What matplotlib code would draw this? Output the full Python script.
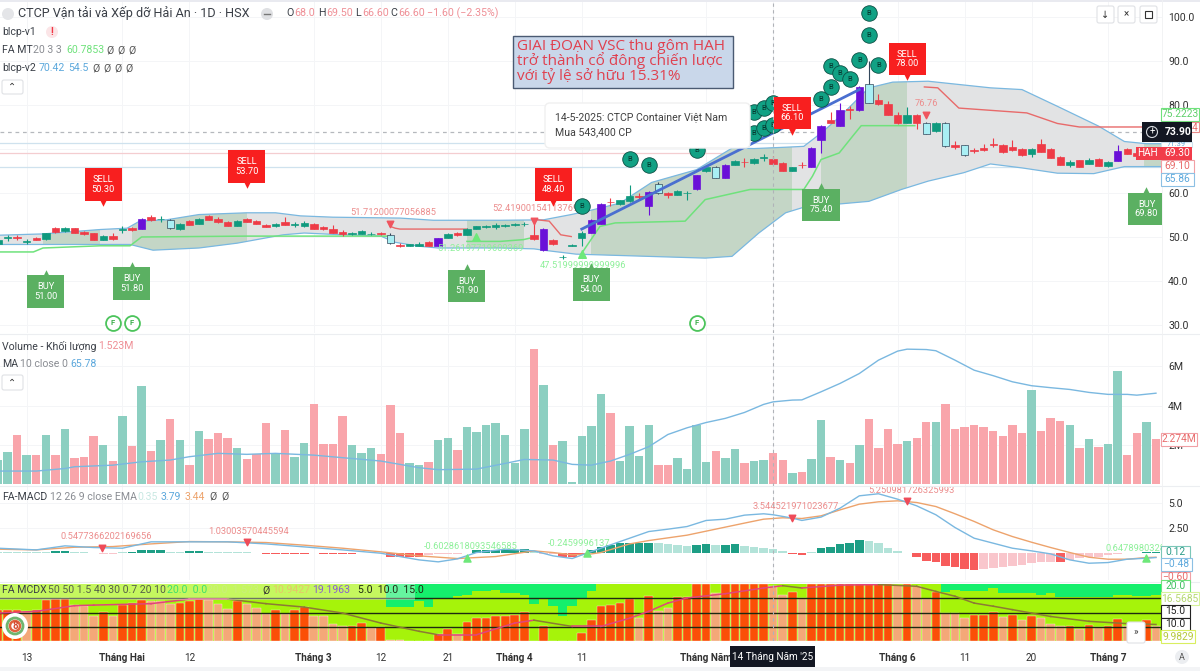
#!/usr/bin/env python3
"""HAH daily chart with volume, MACD and MCDX panels."""

import numpy as np
import matplotlib
matplotlib.use('Agg')
import matplotlib.pyplot as plt
from matplotlib.patches import Rectangle, FancyBboxPatch, Circle

plt.rcParams['font.family'] = ['Roboto', 'DejaVu Sans']

# candles, one entry per session: r/g normal, p breakout, c hollow
candle_kind = ("ggrgrgrgrr" "rgrgrprgcg" "rgrrrgrrrg" "rggrrrrggg" "rcrggrpgrg" "ggggggrprg"
               "ggpprggrpc" "rggpgcpgrg" "grrgrpprpr" "pcrrrgrcgc" "rcrrrrrrgr" "rrgrgrgprrrr")
candle_top = [49.4, 49.9, 49.9, 49.05, 49.85, 50.9, 52.0, 52.0, 52.0, 51.1, 50.9, 50.3, 50.3, 51.75, 52.1, 54.2,
              54.5, 54.15, 53.8, 53.0, 53.6, 54.2, 54.8, 54.1, 53.4, 53.7, 54.2, 53.6, 52.8, 53.0, 53.3, 52.85,
              53.2, 53.0, 52.3, 51.9, 51.2, 50.85, 51.3, 50.75, 50.9, 50.5, 48.2, 48.3, 48.5, 48.8, 49.7, 50.7,
              50.9, 51.8, 52.4, 52.45, 52.7, 52.65, 52.85, 53.05, 50.5, 51.9, 49.4, 45.55, 48.15, 50.9, 53.9, 57.6,
              57.95, 58.3, 59.4, 59.25, 60.2, 62.1, 60.0, 60.5, 60.05, 64.0, 65.9, 65.9, 66.3, 67.3, 67.05, 67.8,
              68.15, 67.7, 66.8, 65.8, 66.35, 70.2, 75.2, 76.7, 78.8, 79.0, 84.2, 84.7, 81.2, 80.2, 77.8, 77.8,
              77.8, 75.9, 75.9, 75.9, 70.8, 70.8, 69.8, 70.3, 71.2, 71.0, 70.5, 70.1, 70.0, 71.1, 70.0, 68.1,
              67.0, 67.4, 67.5, 67.7, 67.1, 69.5, 70.0, 69.1, 69.6, 69.5]
candle_bot = [48.3, 49.7, 49.8, 48.95, 49.4, 49.5, 51.1, 51.4, 50.9, 50.6, 49.4, 49.4, 49.5, 51.65, 51.6, 51.9,
              53.9, 54.05, 52.0, 51.8, 52.8, 53.0, 53.9, 53.3, 52.6, 52.6, 53.5, 53.0, 52.3, 52.4, 52.8, 52.75,
              52.4, 51.9, 51.8, 51.0, 50.7, 50.75, 50.7, 50.65, 50.6, 48.6, 47.9, 48.0, 48.0, 48.0, 48.0, 49.8,
              50.5, 50.5, 51.9, 52.35, 52.2, 52.55, 52.75, 52.95, 49.5, 47.0, 48.3, 45.45, 48.05, 49.7, 50.9, 53.0,
              57.85, 57.4, 58.1, 59.15, 57.1, 59.9, 59.5, 59.6, 59.95, 60.9, 64.9, 63.4, 63.4, 66.4, 66.95, 66.8,
              68.05, 66.5, 65.1, 65.1, 66.25, 66.0, 72.0, 75.9, 75.3, 78.8, 78.8, 80.5, 80.2, 77.8, 75.8, 75.9,
              75.9, 73.5, 74.0, 70.6, 70.4, 68.6, 69.5, 69.8, 70.8, 69.3, 69.8, 68.6, 68.9, 69.4, 68.0, 66.4,
              66.4, 65.9, 66.7, 66.2, 66.2, 67.3, 68.9, 68.3, 68.6, 68.6]
candle_high = [49.7, 50.4, 50.5, 49.5, 50.0, 51.0, 52.2, 52.3, 52.1, 51.3, 51.0, 50.5, 50.9, 52.4, 52.3, 54.3,
               55.0, 54.8, 54.0, 53.2, 53.8, 54.4, 55.0, 54.6, 53.6, 53.9, 54.4, 53.8, 53.0, 53.2, 54.5, 53.3,
               53.6, 53.2, 52.5, 52.8, 51.6, 51.2, 51.6, 51.1, 51.2, 51.0, 48.6, 48.5, 48.8, 49.0, 49.8, 51.0,
               51.2, 52.0, 52.6, 52.7, 53.1, 52.9, 53.1, 53.5, 53.9, 52.0, 49.6, 46.0, 48.3, 51.3, 54.1, 57.8,
               58.8, 58.5, 61.9, 60.1, 60.4, 62.4, 60.3, 60.7, 60.5, 64.2, 66.1, 66.1, 66.5, 67.5, 68.0, 68.0,
               68.8, 68.5, 67.0, 66.0, 67.0, 70.4, 75.4, 78.5, 80.5, 79.8, 84.4, 90.0, 82.5, 81.0, 78.5, 79.5,
               78.0, 76.1, 76.1, 76.1, 71.8, 71.0, 70.3, 71.2, 72.4, 71.2, 72.0, 70.3, 70.2, 72.3, 70.2, 68.3,
               67.4, 67.6, 68.0, 67.9, 67.3, 71.0, 70.2, 69.4, 69.8, 69.7]
candle_low = [48.0, 49.2, 49.3, 48.4, 49.3, 49.4, 51.0, 51.2, 50.8, 50.5, 49.3, 49.3, 49.4, 51.0, 51.4, 51.8,
              53.7, 53.4, 51.9, 51.7, 52.7, 52.9, 53.8, 53.2, 52.5, 52.5, 53.3, 52.9, 52.2, 52.3, 52.7, 52.2,
              52.2, 51.8, 51.7, 50.9, 50.2, 50.5, 50.6, 50.4, 50.4, 48.5, 47.8, 47.9, 47.9, 47.9, 47.9, 49.7,
              50.3, 50.4, 51.8, 52.1, 51.8, 52.3, 52.5, 52.6, 49.4, 46.9, 48.2, 44.9, 47.9, 47.9, 50.8, 52.9,
              57.1, 57.3, 58.0, 58.4, 55.0, 59.8, 58.8, 59.5, 58.4, 60.7, 64.8, 63.3, 63.3, 66.3, 66.0, 66.5,
              67.2, 66.4, 65.0, 65.0, 65.6, 65.9, 69.0, 75.8, 75.2, 76.8, 78.7, 80.4, 80.0, 77.7, 75.7, 75.8,
              74.5, 73.4, 73.9, 70.5, 69.9, 68.5, 69.2, 69.6, 70.5, 69.2, 69.5, 68.5, 68.1, 69.3, 67.9, 66.3,
              66.0, 65.8, 66.5, 66.1, 66.0, 67.2, 68.8, 68.2, 68.5, 68.5]

# bands and stop lines (session index, price)
upper_idx = [0, 4.7, 10.7, 13.5, 14.8, 17.6, 21, 26, 29, 31.6, 35, 42, 45.5, 52.5, 57, 59.9, 62, 65, 68.3, 73, 76.7,
             79, 82.3, 84.2, 86, 88, 91, 93.5, 97.2, 103.7, 107, 110.7, 115, 117.7, 120, 122]
upper_val = [50.4, 50.7, 51.7, 52.0, 53.6, 53.9, 55.1, 55.5, 55.5, 54.8, 54.5, 54.3, 53.8, 53.8, 53.9, 55.1, 56.1,
             57.7, 62.4, 65.3, 70.2, 70.1, 70.4, 70.6, 73.6, 77.4, 83.9, 85.2, 85.4, 83.9, 83.5, 79.7, 75.2, 71.7,
             71.2, 71.2]
lower_idx = [0, 4.7, 13.8, 16.2, 21, 25, 29.8, 32, 35, 40, 41.5, 44, 46, 52.5, 56, 57, 60.4, 73.9, 76.7, 79.5, 82.3,
             85, 87.9, 91, 94.4, 97.2, 100.9, 103.7, 107, 110.7, 114.5, 117.7, 122]
lower_val = [48.3, 48.3, 48.3, 47.0, 47.5, 48.6, 50.5, 50.9, 50.6, 50.2, 48.8, 47.9, 47.5, 47.5, 47.3, 47.0, 46.1,
             45.2, 45.6, 50.9, 55.5, 57.3, 57.5, 58.1, 60.8, 62.7, 64.6, 66.6, 65.7, 64.5, 64.4, 66.0, 66.0]
hold_start = [4.7, 14, 49, 62, 86, 119.7]
hold_end = [10.7, 26, 55, 83, 95, 122]
green_a_idx = [0, 3.7, 4.7, 10.7, 13.8, 15, 26, 40.8]
green_a_val = [46.6, 46.6, 47.5, 48.0, 48.0, 50.0, 50.2, 50.2]
green_b_idx = [49, 52.5, 54.9, 55.7]
green_b_val = [49.0, 49.0, 49.4, 49.8]
green_c_idx = [60.9, 62.9, 64.5, 71.8, 73.9, 78.6, 84.2, 85.1, 86, 87.9, 89.3, 90.2, 95.8]
green_c_val = [46.0, 52.4, 53.2, 53.6, 58.5, 60.8, 60.8, 63.8, 67.6, 69.1, 72.9, 75.3, 75.3]
red_a_idx = [41, 41.5, 42, 49]
red_a_val = [52.4, 52.0, 51.8, 51.8]
red_b_idx = [56, 57.6, 58.8, 59.9]
red_b_val = [54.0, 53.6, 50.5, 50.1]
red_c_idx = [96.8, 98.2, 100.4, 107.5, 110.7, 113, 122]
red_c_val = [84.1, 83.9, 79.3, 78.2, 75.8, 75.0, 75.0]
trend_idx = [61, 90]
trend_val = [51.8, 83.5]

# trade signals and markers
sell_idx = [11, 26, 58, 83, 95]
sell_tip = [56.9, 61.0, 56.9, 73.2, 85.5]
sell_txt = ['50.30', '53.70', '48.40', '66.10', '78.00']
buy_idx = [5, 14, 49, 62, 86, 120]
buy_tip = [42.6, 44.4, 43.9, 44.2, 62.3, 61.4]
buy_txt = ['51.00', '51.80', '51.90', '54.00', '75.40', '69.80']
b_idx = [61, 66, 68, 73, 79, 80, 81, 79, 80, 81, 86, 87, 87, 88, 89, 90, 92, 91, 91]
b_val = [57.1, 67.7, 66.4, 69.8, 78.5, 79.3, 80.5, 73.6, 74.8, 75.5, 81.4, 84.0, 88.8, 87.3, 86.0, 90.3, 89.2, 100.8, 96.0]
flag_idx = [12, 14, 73]
flag_val = [30.5, 30.5, 30.5]

# volume in millions
volume = [1.24, 1.63, 2.5, 1.5, 1.5, 2.5, 1.5, 2.8, 1.35, 1.4, 2.45, 2.03, 1.2, 3.47, 1.97, 5.0, 1.7, 2.25, 3.34, 2.27,
          1.0, 2.7, 2.3, 2.63, 2.37, 1.83, 1.27, 1.56, 3.1, 1.56, 2.76, 1.42, 2.1, 4.08, 2.07, 2.07, 3.5, 2.0, 1.58,
          1.86, 1.56, 4.03, 2.6, 1.1, 1.0, 1.15, 2.24, 2.34, 1.73, 2.9, 2.66, 3.0, 3.14, 2.5, 1.07, 2.83, 6.9, 5.05,
          2.0, 2.2, 0.14, 2.44, 2.97, 4.58, 3.63, 1.19, 2.97, 1.46, 3.03, 1.0, 0.98, 1.32, 0.8, 3.0, 1.12, 1.71, 1.32,
          1.78, 1.1, 1.19, 1.22, 1.58, 1.22, 0.6, 0.64, 1.29, 3.27, 1.4, 1.25, 1.08, 1.98, 3.34, 1.85, 2.8, 2.05, 2.2,
          2.36, 3.17, 3.17, 4.07, 2.8, 2.93, 3.0, 2.9, 2.73, 2.47, 3.02, 2.6, 4.8, 2.7, 3.39, 3.24, 3.02, 1.86, 2.32,
          1.92, 2.08, 5.78, 1.49, 2.6, 3.17, 2.32]
volume_side = ("ggrgrgrgrr" "rgrgrgrgrg" "rgrrrgrrrg" "rggrrrrggg" "rrrggrggrg" "ggggggrgrg"
               "ggggrggggr" "rggggrggrg" "grrgrggrgr" "grrrrgrrgr" "rrrrrrrrgr" "rrgrgrggrrgr")
vol_ma_idx = [0, 4, 7, 8, 12, 15, 18, 20, 23, 26, 29, 33, 36, 40, 44, 46, 50, 53, 55, 58, 60, 62, 64, 66, 68, 70, 72,
              74, 76, 78, 80, 81, 83, 84, 86, 88, 90, 92, 94, 95, 97, 98, 100, 102, 104, 106, 108, 110, 112, 114,
              116, 118, 119, 121]
vol_ma_val = [0.68, 0.68, 0.81, 0.9, 0.98, 1.15, 1.24, 1.41, 1.58, 1.53, 1.58, 1.49, 1.36, 1.19, 0.85, 0.75, 0.78,
              1.07, 1.27, 1.24, 1.02, 0.98, 1.19, 1.53, 1.92, 2.54, 2.88, 3.15, 3.36, 3.66, 4.07, 4.2, 4.29, 4.3,
              4.71, 5.14, 5.64, 6.32, 6.78, 6.88, 6.86, 6.8, 6.32, 5.81, 5.53, 5.22, 5.02, 4.92, 4.83, 4.68, 4.58,
              4.58, 4.54, 4.64]

# MACD
macd_idx = [0, 4, 7, 10, 13, 16, 18, 24, 28, 36, 40, 44, 46, 48, 50, 53, 56, 58, 60, 62, 63, 66, 68, 70, 72, 74, 76,
            78, 80, 81, 83, 84, 86, 88, 90, 92, 94, 96, 98, 100, 102, 104, 106, 108, 110, 112, 114, 116, 118, 120, 121]
macd_val = [0.44, 0.27, 0.68, 0.51, 0.44, 1.09, 1.09, 1.09, 0.88, 0.27, -0.07, -0.75, -0.95, -0.65, 0.0, 0.34, 0.17,
            -0.34, -0.61, 0.1, 0.44, 1.46, 2.14, 2.38, 2.65, 3.27, 3.4, 3.81, 3.95, 3.85, 3.51, 3.27, 3.61, 4.53, 5.78,
            5.99, 5.44, 4.76, 3.85, 2.55, 1.46, 0.95, 0.44, 0.17, -0.14, -0.75, -1.09, -1.02, -0.68, -0.58, -0.51]
signal_idx = [0, 4, 8, 12, 16, 20, 24, 28, 32, 36, 40, 44, 48, 52, 56, 58, 60, 62, 63, 66, 68, 72, 76, 78, 80, 82, 84,
              86, 88, 90, 92, 94, 96, 98, 100, 102, 104, 106, 108, 110, 112, 114, 116, 118, 120, 121]
signal_val = [0.34, 0.27, 0.54, 0.61, 0.88, 1.12, 1.09, 1.02, 0.75, 0.44, 0.07, -0.34, -0.61, -0.41, 0.17, 0.0, -0.24,
              -0.14, 0.0, 0.88, 1.22, 1.77, 2.59, 3.0, 3.4, 3.54, 3.47, 3.74, 4.35, 4.93, 5.17, 5.27, 5.1, 4.69, 3.95,
              3.17, 2.31, 1.63, 1.05, 0.51, 0.0, -0.48, -0.68, -0.68, -0.51, -0.48]
macd_hist = [0.03, 0.02, 0.02, 0.02, 0.05, 0.1, 0.2, 0.2, 0.1, 0.05, -0.05, -0.1, -0.1, 0.03, 0.08, 0.3, 0.3, 0.3,
             0.1, 0.06, 0.2, 0.2, 0.05, 0.04, 0.03, 0.03, 0.03, -0.04, -0.12, -0.12, -0.12, -0.12, -0.12, -0.08, -0.2,
             -0.2, -0.2, -0.2, -0.08, -0.08, -0.08, -0.5, -0.5, -0.5, -0.5, -0.25, -0.2, -0.15, -0.1, -0.05, 0.3, 0.3,
             0.3, 0.3, 0.3, 0.4, 0.2, -0.1, -0.1, -0.5, -0.5, -0.3, 0.3, 0.6, 0.78, 0.95, 0.95, 1.02, 1.02, 0.95, 0.85,
             0.78, 0.68, 0.78, 0.88, 0.78, 0.78, 0.82, 0.68, 0.61, 0.51, 0.34, 0.14, -0.1, -0.24, 0.02, 0.44,
             0.61, 0.88, 0.95, 1.29, 1.16, 0.95, 0.51, 0.2, -0.07, -0.48, -0.88, -0.95, -1.36, -1.5, -1.67, -1.77,
             -1.67, -1.6, -1.5, -1.36, -1.26, -1.09, -1.0, -0.95, -0.95, -0.75, -0.58, -0.48, -0.41, -0.27, -0.14,
             -0.07, 0.0, 0.1, 0.1]
hist_strong = ("000000" "11" "000000" "1111" "00" "11" "000000" "11111" "0" "1111" "000" "1111" "00000" "111111"
               "000" "111" "1111111" "0000" "11" "0" "11" "00000" "11" "0" "11111" "0000" "11111111" "00000000"
               "1" "00000000" "11")

# MCDX stacks, 0-20
mcdx_red = [11.0, 11.0, 11.0, 10.5, 10.8, 14.5, 14.7, 15.0, 12.6, 12.3, 8.6, 10.3, 8.8, 12.6, 13.3, 14.5, 14.0, 14.0,
            12.9, 13.4, 13.9, 14.8, 14.5, 13.0, 11.2, 14.0, 12.9, 11.7, 9.6, 11.0, 9.6, 11.0, 11.9, 8.8, 8.6, 6.1,
            5.1, 5.1, 6.4, 4.6, 4.8, 0.5, 0.2, 0.1, 0.0, 0.0, 2.6, 4.3, 2.6, 6.8, 8.0, 8.0, 8.9, 8.9, 9.2, 10.1, 0.0,
            5.4, 0.0, 0.0, 0.0, 2.8, 7.3, 12.3, 12.8, 13.3, 14.9, 8.0, 15.7, 10.5, 11.7, 15.3, 15.3, 20.0, 20.0, 16.9,
            20.0, 20.0, 20.0, 20.0, 20.0, 19.2, 16.3, 17.2, 15.0, 20.0, 20.0, 20.0, 20.0, 20.0, 20.0, 20.0, 20.0,
            20.0, 19.8, 20.0, 19.2, 14.8, 17.2, 9.9, 9.9, 8.2, 9.2, 9.2, 10.1, 8.4, 9.2, 7.5, 8.9, 8.2, 6.1, 5.1, 5.1,
            4.3, 5.5, 4.8, 5.1, 7.7, 5.1, 5.1, 7.5, 5.4]
mcdx_strong = [1, 1, 1, 0, 1, 1, 1, 1, 0, 0, 0, 1, 0, 1, 1, 1, 0, 0, 0, 1, 1, 1, 0, 0, 0, 1, 0, 0, 0, 1, 0, 1, 1, 0, 0,
               0, 0, 1, 1, 0, 1, 0, 0, 0, 0, 0, 1, 1, 0, 1, 1, 1, 1, 1, 1, 1, 0, 1, 0, 0, 0, 1, 1, 1, 1, 1, 1, 0, 1, 0,
               0, 1, 1, 1, 1, 0, 1, 1, 1, 1, 1, 0, 0, 1, 0, 1, 1, 1, 1, 1, 1, 1, 1, 1, 0, 1, 0, 0, 1, 0, 0, 0, 1, 1, 1,
               0, 1, 0, 1, 0, 0, 0, 1, 0, 1, 0, 1, 1, 0, 0, 1, 0]
mcdx_top = [0, 0, 0, 0, 0, 0, 0, 0, 0, 0, 0, 0, 0, 0, 0, 0, 0, 0, 0, 0, 0, 0, 0, 0, 0, 0, 0, 0, 0, 0, 0, 0, 0, 0, 0, 0,
            0, 0, 0, 0, 0, 7.9, 7.9, 7.9, 6.1, 7.9, 4.9, 4.9, 4.3, 3.8, 2.6, 2.6, 2.2, 3.2, 3.2, 3.8, 6.9, 4.9, 7.6, 11.3,
            7.8, 4.9, 2.6, 0, 0, 0, 0, 0, 0, 0, 0, 0, 0, 0, 0, 0, 0, 0, 0, 0, 0, 0, 0, 0, 0, 0, 0, 0, 0, 0, 0, 0, 0, 0, 0,
            0, 0, 0, 0, 2.9, 2.0, 2.6, 2.6, 2.6, 1.4, 3.2, 3.2, 3.2, 3.2, 3.8, 3.2, 4.6, 4.6, 4.6, 4.6, 4.6, 4.6, 3.8, 3.8,
            4.3, 4.3, 3.8]
mcdx_ma_idx = [0, 4, 8, 10, 16, 20, 24, 28, 32, 36, 40, 44, 46, 50, 54, 56, 60, 63, 66, 68, 70, 72, 76, 80, 82, 84, 88,
               92, 96, 98, 100, 102, 104, 106, 108, 110, 114, 118, 121]
mcdx_ma_val = [9.8, 10.4, 12.4, 12.6, 13.1, 14.7, 14.7, 13.1, 11.9, 9.8, 6.3, 3.4, 2.2, 2.2, 6.3, 7.3, 5.1, 5.1, 8.0,
               10.4, 13.3, 15.1, 16.6, 18.6, 19.4, 18.6, 19.6, 19.8, 19.2, 17.4, 15.7, 13.3, 12.2, 11.0, 9.8, 8.6, 6.9,
               6.1, 5.8]

# x axis
tick_idx = [3, 13, 20, 33, 40, 47, 54, 61, 74, 94, 101, 108, 116]
tick_lbl = ['13', 'Tháng Hai', '12', 'Tháng 3', '12', '21', 'Tháng 4', '11', 'Tháng Năm', 'Tháng 6', '11', '20', 'Tháng 7']
cross_idx = 81

W, H = 1200, 671
CHART_RIGHT = 1162
KIND_COLOR = {'r': '#ee3b47', 'g': '#0f9a7e', 'p': '#6a10d8', 'c': '#a9eff4'}
BAND_BLUE = '#7ab8e0'


def px_axes(fig, y0, y1):
    # axes over the chart width, between two pixel rows
    ax = fig.add_axes([0, 1 - y1 / H, CHART_RIGHT / W, (y1 - y0) / H])
    ax.set_xlim(0.21, 121.63)
    ax.patch.set_alpha(0)
    for s in ax.spines.values():
        s.set_visible(False)
    ax.tick_params(length=0, labelbottom=False, left=False, labelleft=False,
                   right=False, labelright=True, pad=4.5, labelsize=7.6, labelcolor='#303030')
    ax.yaxis.tick_right()
    ax.set_xticks(tick_idx + [cross_idx])
    ax.grid(True, color='#f4f5f7', lw=0.7)
    ax.set_axisbelow(True)
    ax.axvline(cross_idx, color='#b0b3b8', lw=0.8, ls=(0, (3, 3)), zorder=6)
    return ax


fig = plt.figure(figsize=(W / 100, H / 100), dpi=100, facecolor='white')
ax_p = px_axes(fig, 0, 333)
ax_v = px_axes(fig, 335, 486)
ax_m = px_axes(fig, 487, 580)
ax_x = px_axes(fig, 584, 641)

# ---- price panel
ax_p.set_ylim(28.18, 103.86)
ax_p.set_yticks(np.arange(30, 101, 10.0))
ax_p.set_yticklabels(['%.1f' % v for v in np.arange(30, 101, 10.0)])

for lvl, col, ls in [(73.9, '#b5b8bd', (0, (3, 3))), (71.4, '#cfe2ee', '-'), (69.1, '#f4cdd0', '-'), (65.86, '#cfe2ee', '-')]:
    ax_p.axhline(lvl, color=col, lw=0.9, ls=ls, zorder=1)

band = ax_p.fill(upper_idx + lower_idx[::-1], upper_val + lower_val[::-1], color='#e2e3e4', lw=0, zorder=1.5)[0]
for a, b in zip(hold_start, hold_end):
    sp = ax_p.axvspan(a, b, color='#c4d6c6', lw=0, zorder=1.6)
    sp.set_clip_path(band.get_path(), band.get_transform())
ax_p.plot(upper_idx, upper_val, color=BAND_BLUE, lw=0.9, zorder=2)
ax_p.plot(lower_idx, lower_val, color=BAND_BLUE, lw=0.9, zorder=2)
for xs, ys in [(green_a_idx, green_a_val), (green_b_idx, green_b_val), (green_c_idx, green_c_val)]:
    ax_p.plot(xs, ys, color='#6fe27c', lw=1.1, zorder=2.2)
for xs, ys in [(red_a_idx, red_a_val), (red_b_idx, red_b_val), (red_c_idx, red_c_val)]:
    ax_p.plot(xs, ys, color='#e86a6a', lw=1.0, zorder=2.2)

idx = np.arange(len(candle_top))
top, bot = np.array(candle_top), np.array(candle_bot)
colors = [KIND_COLOR[k] for k in candle_kind]
edges = ['#33475b' if k == 'c' else KIND_COLOR[k] for k in candle_kind]
ax_p.vlines(idx, candle_low, candle_high, colors=edges, lw=0.8, zorder=3)
ax_p.bar(idx, top - bot, bottom=bot, width=0.78, color=colors, edgecolor=edges, lw=0.5, zorder=3.1)
ax_p.plot(trend_idx, trend_val, color='#4a6fd0', lw=2, zorder=3.5)

# small triangles and the long labels next to them
ax_p.scatter([41, 56, 97], [53.0, 53.7, 77.8], marker='v', s=22, color='#f0555f', zorder=4)
ax_p.scatter([50, 61], [50.1, 46.2], marker='^', s=30, color='#6ee87a', zorder=4)
long_lbl = [(36.8, 55.5, '51.71200077056885', '#ec8d8d'), (51.6, 56.4, '52.41900154113769', '#ec8d8d'),
            (45.9, 47.3, '51.26197719609369', '#8ef09a'), (56.6, 43.5, '47.51999999999996', '#8ef09a'),
            (97, 80.3, '76.76', '#ec8d8d')]
for x, y, t, c in long_lbl:
    ax_p.text(x, y, t, color=c, fontsize=6.7, va='center', zorder=4.2,
              ha='center' if t == '76.76' else 'left')

# buy / sell callouts, size given in data units of this panel
BOX_W, BOX_H, TIP_H = 3.87, 7.4, 1.3
for i, tip, t in zip(sell_idx, sell_tip, sell_txt):
    ax_p.add_patch(Rectangle((i - BOX_W / 2, tip + TIP_H), BOX_W, BOX_H, color='#f81f1f', lw=0, zorder=6))
    ax_p.scatter([i], [tip + TIP_H - 0.3], marker='v', s=38, color='#f81f1f', lw=0, zorder=6)
    ax_p.text(i, tip + TIP_H + BOX_H / 2, 'SELL\n' + t, color='white', fontsize=6.7, ha='center', va='center',
              linespacing=1.05, zorder=6.1)
for i, tip, t in zip(buy_idx, buy_tip, buy_txt):
    ax_p.add_patch(Rectangle((i - BOX_W / 2, tip - TIP_H - BOX_H), BOX_W, BOX_H, color='#5bb062', lw=0, zorder=6))
    ax_p.scatter([i], [tip - TIP_H + 0.3], marker='^', s=38, color='#5bb062', lw=0, zorder=6)
    ax_p.text(i, tip - TIP_H - BOX_H / 2, 'BUY\n' + t, color='white', fontsize=6.7, ha='center', va='center',
              linespacing=1.05, zorder=6.1)

ax_p.scatter(b_idx, b_val, s=125, color='#11a184', edgecolor='#0b4f44', lw=0.6, zorder=5)
for i, v in zip(b_idx, b_val):
    ax_p.text(i, v, 'B', color='#06352d', fontsize=5.5, ha='center', va='center', zorder=5.1)
ax_p.scatter(flag_idx, flag_val, s=115, color='white', edgecolor='#4cc45c', lw=1.3, zorder=5)
for i, v in zip(flag_idx, flag_val):
    ax_p.text(i, v, 'F', color='#3cae4c', fontsize=5.5, fontweight='bold', ha='center', va='center', zorder=5.1)

# ---- volume panel
ax_v.set_ylim(-0.08, 7.6)
ax_v.set_yticks([2, 4, 6])
ax_v.set_yticklabels(['2M', '4M', '6M'])
vol_col = ['#8ccfc1' if s == 'g' else '#f9a5ab' for s in volume_side]
ax_v.bar(np.arange(len(volume)), volume, width=0.88, color=vol_col, lw=0, zorder=2)
ax_v.plot(vol_ma_idx, vol_ma_val, color=BAND_BLUE, lw=1.0, zorder=3)

# ---- MACD panel
ax_m.set_ylim(-2.8, 6.68)
ax_m.set_yticks([2.5, 5.0])
ax_m.set_yticklabels(['2.50', '5.0'])
hist_col = []
for v, s in zip(macd_hist, hist_strong):
    if v >= 0:
        hist_col.append('#1d9e85' if s == '1' else '#b3e3d9')
    else:
        hist_col.append('#f75c5c' if s == '1' else '#f9c6cc')
ax_m.bar(np.arange(len(macd_hist)), macd_hist, width=0.9, color=hist_col, lw=0, zorder=2)
ax_m.plot(signal_idx, signal_val, color='#eda36c', lw=1.0, zorder=3)
ax_m.plot(macd_idx, macd_val, color=BAND_BLUE, lw=1.0, zorder=3.1)
ax_m.scatter([10.9, 26, 83, 95], [0.5, 1.05, 3.52, 5.27], marker='v', s=22, color='#ef4b58', zorder=4)
ax_m.scatter([49, 61.5, 120], [-0.55, -0.05, -0.55], marker='^', s=26, color='#6ee87a', zorder=4)
macd_lbl = [(6.5, 1.63, '0.5477366202169656', '#ec8d8d'), (22, 2.1, '1.03003570445594', '#ec8d8d'),
            (44.5, 0.6, '-0.6028618093546585', '#8ef09a'), (57.5, 0.9, '-0.2459996137', '#8ef09a'),
            (78.9, 4.65, '3.544521971023677', '#ec8d8d'), (90.9, 6.35, '5.250981726325993', '#ec8d8d'),
            (115.7, 0.45, '0.6478980328', '#8ef09a')]
for x, y, t, c in macd_lbl:
    ax_m.text(x, y, t, color=c, fontsize=6.7, va='center', zorder=4.2, clip_on=True)

# ---- MCDX panel
ax_x.set_ylim(0, 20)
ax_x.set_yticks([])
ax_x.grid(False)
x_all = np.arange(len(mcdx_red))
ax_x.bar(x_all, [20.0] * len(x_all), width=1.0, color='#a6f30a', lw=0, zorder=1)
ax_x.bar(x_all, mcdx_top, bottom=20 - np.array(mcdx_top), width=1.0, color='#15ef6c', lw=0, zorder=1.2)
ax_x.bar(x_all, mcdx_red, width=0.9, color=['#fb4f07' if s else '#f4a878' for s in mcdx_strong],
         edgecolor='white', lw=0.25, zorder=1.5)
for lvl in (5, 10, 15):
    ax_x.axhline(lvl, color='#1e2a12', lw=1, zorder=2)
ma_x, ma_y = np.array(mcdx_ma_idx), np.array(mcdx_ma_val)
for k in range(len(ma_x) - 1):
    rising = ma_y[k + 1] >= ma_y[k]
    ax_x.plot(ma_x[k:k + 2], ma_y[k:k + 2], lw=1.1, zorder=3, color='#e0457c' if rising else '#8c7a35')

# bottom tick labels belong to the lowest axes
ax_x.set_xticks(tick_idx)
ax_x.set_xticklabels(tick_lbl)
ax_x.tick_params(labelbottom=True, axis='x', pad=8.5, labelsize=7.2, labelcolor='#303030')
for lab in ax_x.get_xticklabels():
    if lab.get_text().startswith('Tháng'):
        lab.set_fontweight('bold')

# ---- overlay in pixels: legends, tags, buttons
ui = fig.add_axes([0, 0, 1, 1], zorder=20)
ui.set_xlim(0, W)
ui.set_ylim(H, 0)
ui.axis('off')
ui.patch.set_alpha(0)


def txt(x, y, s, color='#3a3f47', size=7.6, **kw):
    kw.setdefault('va', 'center')
    return ui.text(x, y, s, color=color, fontsize=size, **kw)


def tag(y, s, edge, fg, x0=1161, x1=1197, fill='white', h=13):
    ui.add_patch(Rectangle((x0, y - h / 2), x1 - x0, h, fc=fill, ec=edge, lw=0.8, zorder=3))
    txt((x0 + x1) / 2, y, s, color=fg, size=7.4, ha='center', zorder=3.1)


def button(x, y, w, h, s):
    ui.add_patch(FancyBboxPatch((x, y), w, h, boxstyle='round,pad=0,rounding_size=2', fc='white',
                                ec='#dfe1e5', lw=0.8, zorder=3))
    txt(x + w / 2, y + h / 2, s, color='#333333', size=7, ha='center', zorder=3.1)


# separators and frame
for y in (334, 486, 582):
    ui.plot([0, W], [y, y], color='#eceef1', lw=0.8)
ui.plot([CHART_RIGHT, CHART_RIGHT], [0, 640], color='#f0f1f3', lw=0.6)
ui.add_patch(Rectangle((0, 0), W, 2, fc='#e9eaf0', lw=0))
ui.add_patch(Rectangle((0, 667), W, 4, fc='#f3f4f6', lw=0))

# price legend
ui.add_patch(Circle((8, 14), 6, fc='#e4e5e8', lw=0))
txt(18, 13.5, 'CTCP Vận tải và Xếp dỡ Hải An · 1D · HSX', size=9.05)
ui.add_patch(Circle((267, 14), 6, fc='#dfe0e3', lw=0))
ui.plot([264, 270], [14, 14], color='#777777', lw=1)
for x, s, c in [(286, 'O', '#3a3f47'), (294, '68.0', '#ef8f96'), (318, 'H', '#3a3f47'), (326, '69.50', '#ef8f96'),
                (355, 'L', '#3a3f47'), (362, '66.60', '#ef8f96'), (390, 'C', '#3a3f47'), (398, '66.60', '#ef8f96'),
                (427, '−1.60 (−2.35%)', '#ef8f96')]:
    txt(x, 13.5, s, color=c, size=7.7)
txt(2, 32, 'blcp-v1', size=7.6)
ui.add_patch(Circle((52, 32), 6, fc='#fbe5e7', lw=0))
txt(52, 32, '!', color='#f23645', size=7, ha='center', fontweight='bold')
for x, s, c in [(2, 'FA MT', '#3a3f47'), (33, '20 3 3', '#8a8d93'), (66, '60.7853', '#6fe27c'), (106, 'Ø', '#555555'),
                (117, 'Ø', '#555555'), (128, 'Ø', '#555555')]:
    txt(x, 50, s, color=c)
for x, s, c in [(2, 'blcp-v2', '#3a3f47'), (39, '70.42', '#5ca8dc'), (68, '54.5', '#5ca8dc'), (92, 'Ø', '#555555'),
                (103, 'Ø', '#555555'), (114, 'Ø', '#555555'), (125, 'Ø', '#555555')]:
    txt(x, 68, s, color=c)
button(2, 80, 21, 14, '⌃')

# volume and oscillator legends
txt(2, 346, 'Volume - Khối lượng')
txt(98, 346, '1.523M', color='#ef8f96')
txt(2, 364, 'MA')
txt(20, 364, '10 close 0', color='#8a8d93')
txt(70, 364, '65.78', color='#5ca8dc')
button(2, 375, 21, 15, '⌃')
for x, s, c in [(2, 'FA-MACD', '#3a3f47'), (50, '12 26 9 close EMA', '#8a8d93'), (137, '0.35', '#c8e8e2'),
                (161, '3.79', '#5ca8dc'), (185, '3.44', '#eda36c'), (209, 'Ø', '#555555'), (221, 'Ø', '#555555')]:
    txt(x, 497, s, color=c)
ui.add_patch(Rectangle((0, 584), 415, 16, fc='white', alpha=0.35, lw=0))
for x, s, c in [(2, 'FA MCDX', '#3a3f47'), (48, '50 50 1.5 40 30 0.7 20 10', '#55604a'), (167, '20.0  0.0', '#3fe06c'),
                (207, '20.0  1.573', '#c9ef7c'), (262, 'Ø', '#333333'), (272, '10.9427', '#e6c66a'),
                (312, '19.1963', '#8a5fd0'), (358, '5.0  10.0  15.0', '#1e2a12')]:
    txt(x, 590, s, color=c)

# annotation box and tooltip
ui.add_patch(Rectangle((513, 35.5), 220, 52, fc='#c9d7ea', ec='#4a5a72', lw=1))
txt(517, 61.5, 'GIAI ĐOẠN VSC thu gôm HAH\ntrở thành cổ đông chiến lược\nvới tỷ lệ sở hữu 15.31%', color='#e0404f',
    size=11, linespacing=0.88, family=['Open Sans', 'DejaVu Sans'])
ui.add_patch(FancyBboxPatch((545, 103), 205, 45, boxstyle='round,pad=0,rounding_size=5', fc='white', ec='#f0f0f0', lw=1))
txt(555, 125, '14-5-2025: CTCP Container Việt Nam\nMua 543,400 CP', color='#404040', size=7.6, linespacing=1.65)

# top right buttons
button(1097, 6, 17, 17, '↓')
button(1118, 6, 17, 17, '×')
button(1140, 6, 17, 17, '')
ui.add_patch(Rectangle((1145, 11), 7, 7, fc='none', ec='#333333', lw=0.8, zorder=3.2))

# price scale tags
tag(114, '75.2223', '#6fe27c', '#5fd06c', x1=1199)
ui.add_patch(Rectangle((1161, 122), 38, 10, fc='white', ec='#e88a8a', lw=0.8, zorder=3))
txt(1195, 128, '4', color='#e86a6a', size=7.4, ha='center', zorder=3.1)
ui.add_patch(Rectangle((1142, 122), 50, 20, fc='#131722', lw=0, zorder=3.5))
ui.add_patch(Circle((1152, 132), 5.5, fc='none', ec='#d5d8de', lw=0.8, zorder=3.6))
txt(1152, 132, '+', color='white', size=7, ha='center', zorder=3.6)
txt(1178, 132, '73.90', color='white', size=7.6, ha='center', fontweight='bold', zorder=3.6)
tag(144.5, '71.39', '#cfe2ee', '#6aa8d0', x1=1192, h=5)
ui.texts[-1].set_fontsize(5.5)
ui.add_patch(Rectangle((1136, 147), 24, 13, fc='#f13c4a', lw=0, zorder=3.5))
ui.add_patch(Rectangle((1160, 147), 32, 13, fc='#f13c4a', lw=0, zorder=3.5))
txt(1147, 153.5, 'HAH', color='white', size=7.2, ha='center', zorder=3.6)
txt(1177, 153.5, '69.30', color='white', size=7.4, ha='center', zorder=3.6)
tag(166, '69.10', '#f1a0a5', '#e86a6a', x1=1194)
tag(179, '65.86', '#8cc0e4', '#5ca8dc', x1=1194)

# other panels' tags
tag(439.5, '2.274M', '#f1a0a5', '#e86a6a')
tag(552, '0.12', '#7cc7b8', '#2a9c88', x1=1190)
tag(564, '−0.48', '#8cc0e4', '#5ca8dc', x1=1192)
tag(577, '−0.60', '#f1a0a5', '#e86a6a', x1=1190, h=11)
tag(586, '20.0', '#6fe27c', '#3fc060', x1=1190)
tag(598.5, '16.5685', '#d6f29a', '#b5d870', x1=1199)
tag(611, '15.0', '#222222', '#222222', x1=1190)
tag(624, '10.0', '#222222', '#222222', x1=1190)
tag(636.5, '9.9829', '#d9ee60', '#b6c93a', x1=1195)

# logo, scroll button, date box, auto scale
ui.add_patch(Circle((15, 626), 13, fc='white', lw=0))
ui.add_patch(Circle((15, 626), 8, fc='none', ec='#6fb56f', lw=2))
ui.add_patch(Circle((15, 626), 5, fc='none', ec='#e0623c', lw=1.8))
txt(15, 626, '8', color='#d24a30', size=7, ha='center', fontweight='bold')
button(1127, 622, 18, 21, '»')
ui.add_patch(Rectangle((730, 646), 85, 21, fc='#131722', lw=0, zorder=3))
txt(772.5, 656.5, "14 Tháng Năm '25", color='white', size=7.2, ha='center', zorder=3.1)
ui.add_patch(Circle((1182, 657), 7, fc='#eceef1', lw=0))
txt(1182, 657, 'A', color='#555555', size=6.5, ha='center')

fig.savefig('out.png', dpi=100)
